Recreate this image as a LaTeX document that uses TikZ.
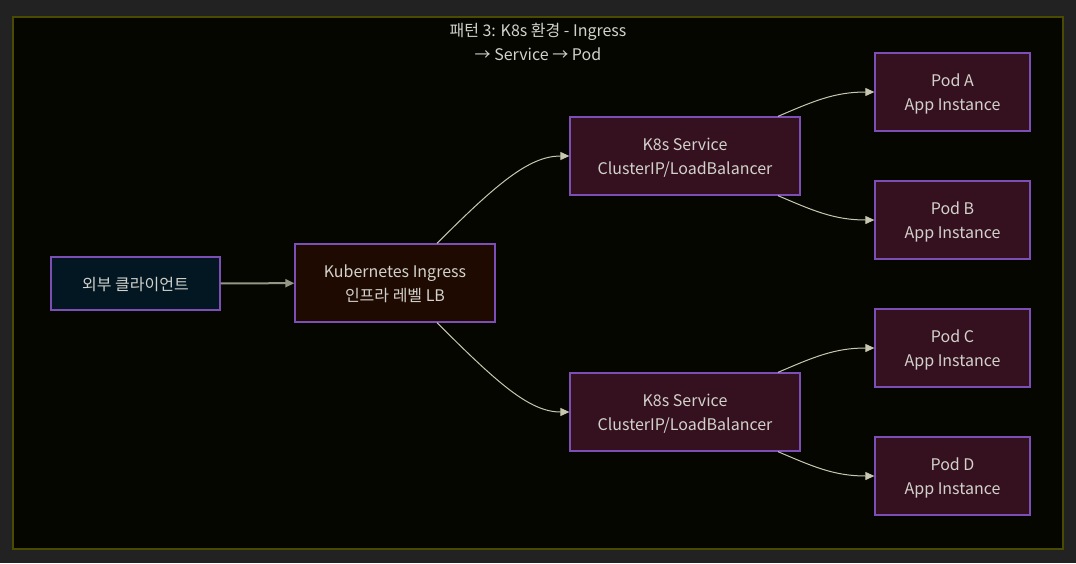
\documentclass[tikz,border=0pt]{standalone}
\usepackage{fontspec}
\setmainfont{Noto Sans CJK KR}
\usetikzlibrary{arrows.meta, positioning}
\definecolor{pagebg}{HTML}{222222}
\definecolor{framebg}{HTML}{050600}
\definecolor{frameline}{HTML}{4A4A00}
\definecolor{clientbg}{HTML}{031722}
\definecolor{ingressbg}{HTML}{1E0A00}
\definecolor{podbg}{HTML}{35111F}
\definecolor{nodeline}{HTML}{7B4FB5}
\definecolor{txt}{HTML}{D2D2CC}
\definecolor{edge}{HTML}{C8C8B0}

\begin{document}
\begin{tikzpicture}[
    x=1pt, y=-1pt,
    every node/.style={font=\fontsize{16}{24}\selectfont, text=txt, align=center},
    box/.style={draw=nodeline, line width=1.3pt, inner sep=0pt, text depth=0pt},
    client/.style={box, fill=clientbg, minimum width=169pt, minimum height=53pt},
    ingress/.style={box, fill=ingressbg, minimum width=200pt, minimum height=78pt},
    svc/.style={box, fill=podbg, minimum width=230pt, minimum height=78pt},
    pod/.style={box, fill=podbg, minimum width=155pt, minimum height=78pt},
    arrow/.style={-{Triangle[length=9pt, width=8pt]}, edge, line width=1pt},
]
% background and frame
\fill[pagebg] (0,0) rectangle (1076,563);
\draw[frameline, line width=2pt, fill=framebg] (13,17) rectangle (1063,549);
\node (title) at (538,42) {패턴 3: K8s 환경 - Ingress\\→ Service → Pod};

\node[client] (client) at (135.5,283.5) {외부 클라이언트};
\node[ingress] (ingress) at (395,283) {Kubernetes Ingress\\인프라 레벨 LB};
\node[svc] (svc1) at (685,156) {K8s Service\\ClusterIP/LoadBalancer};
\node[svc] (svc2) at (685,412) {K8s Service\\ClusterIP/LoadBalancer};
\node[pod] (podA) at (952.5,92) {Pod A\\App Instance};
\node[pod] (podB) at (952.5,220) {Pod B\\App Instance};
\node[pod] (podC) at (952.5,348) {Pod C\\App Instance};
\node[pod] (podD) at (952.5,476) {Pod D\\App Instance};

\draw[arrow, line width=2pt, edge!75!black] (client) -- (ingress);
\draw[arrow] ([xshift=42pt]ingress.north) .. controls +(60,-60) and +(-40,0) .. (svc1.west);
\draw[arrow] ([xshift=42pt]ingress.south) .. controls +(60,60) and +(-40,0) .. (svc2.west);
\draw[arrow] ([xshift=93pt]svc1.north) .. controls +(35,-15) and +(-40,0) .. (podA.west);
\draw[arrow] ([xshift=93pt]svc1.south) .. controls +(35,15) and +(-40,0) .. (podB.west);
\draw[arrow] ([xshift=93pt]svc2.north) .. controls +(35,-15) and +(-40,0) .. (podC.west);
\draw[arrow] ([xshift=93pt]svc2.south) .. controls +(35,15) and +(-40,0) .. (podD.west);
\end{tikzpicture}
\end{document}
